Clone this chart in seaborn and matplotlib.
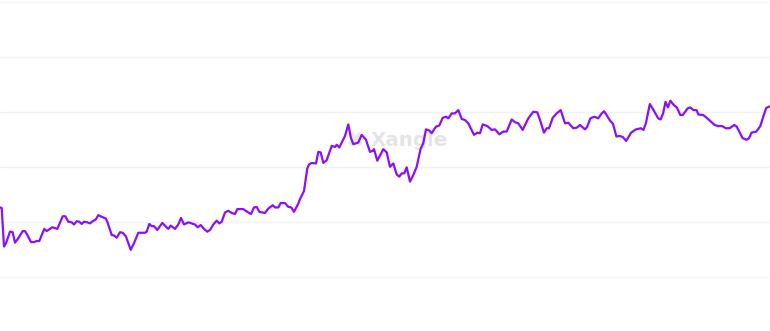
import matplotlib
matplotlib.use("Agg")
import matplotlib.pyplot as plt
import seaborn as sns
import pandas as pd

# time index (arbitrary units along the x-axis) and series values
t = [0, 1.7, 4, 6, 10, 12.7, 15, 18.3, 22.7, 25, 27.3, 31, 34.3, 36.7, 39.3, 44.3, 46.7,
     52.3, 57.3, 62.7, 65.3, 68.3, 71.7, 74, 76.7, 79.3, 81.7, 84, 87.3, 90, 92.7, 95.7,
     98.3, 101.7, 105.7, 107.3, 111.7, 114, 116.7, 120, 122.7, 126, 130.7, 134, 138.3,
     145, 146.7, 149.3, 151.7, 154, 157.3, 162.3, 166, 168.3, 170.7, 175, 178.3, 181,
     184, 188.3, 191.7, 195, 197.7, 200.7, 204, 207.3, 210, 213.3, 216.7, 219.3, 221.7,
     225, 228.3, 231.7, 235, 237.3, 243.3, 247.3, 251, 254, 256.7, 259.3, 265, 268.3,
     272.7, 275, 278.3, 280.7, 285, 288.3, 291.3, 294, 298, 300, 304, 307.3, 309, 311.7,
     316, 318.3, 320.7, 323.3, 326.7, 331.7, 335, 336.7, 339.3, 343.3, 345, 348.3, 351,
     353.3, 358.3, 361.7, 366, 370, 372.7, 374, 377.3, 380.7, 383.3, 386.7, 390, 393.3,
     396.7, 399.3, 401.7, 404.3, 406.7, 410, 413.3, 416.7, 420.5, 423.3, 426, 429.3,
     431.7, 436, 439.3, 442.7, 446, 448.3, 451.7, 455, 458.3, 461.7, 465, 468.3, 474,
     477.3, 480, 482.7, 487.3, 491.7, 495, 499.3, 503.3, 506.7, 511.7, 515, 518.3, 522.7,
     528.3, 533.3, 537.3, 540, 544, 546.7, 549, 552.7, 556.7, 560.7, 565, 568.3, 573.3,
     576.7, 580, 585, 587, 590.4, 594.3, 598.2, 601.7, 604.1, 606.6, 610, 613, 616.4,
     619.8, 622.8, 626.2, 631.1, 636, 641, 643.4, 645.9, 649.8, 653.2, 658.2, 660.6,
     663.1, 665.5, 668, 670.4, 673.9, 676.8, 680.3, 682.7, 687.6, 690.1, 693.5, 696.5,
     698.4, 703.3, 707.3, 709.7, 714.6, 718.1, 722, 725.9, 729.4, 734.3, 736.7, 739.2,
     742.6, 746.6, 749, 751.5, 756.4, 760.3, 763.8, 766.2, 770]

values = [12.7, 12.6, 5.6, 6.2, 8.3, 8.2, 6.3, 7.1, 8.4, 8.4, 7.7, 6.4, 6.4, 6.6, 6.6, 8.8, 8.4,
          9.1, 8.8, 11.1, 11.1, 10.1, 10.0, 9.6, 10.2, 10.1, 9.7, 10.1, 10.0, 9.8, 10.2, 10.5,
          11.3, 11.0, 10.7, 10.1, 7.7, 7.6, 7.2, 8.2, 8.1, 7.4, 5.0, 6.2, 8.1,
          8.1, 8.3, 9.7, 9.3, 9.3, 8.6, 9.9, 9.2, 8.8, 9.4, 8.8, 9.6, 10.8,
          9.6, 10.0, 9.8, 9.6, 9.1, 9.5, 8.8, 8.3, 8.6, 9.6, 10.3, 9.8, 10.1,
          11.8, 12.1, 11.7, 11.5, 12.4, 12.4, 11.9, 11.5, 12.7, 12.8, 11.9, 11.7, 12.5,
          13.1, 12.7, 12.7, 13.5, 13.5, 12.8, 12.7, 11.9, 13.3, 14.2, 15.7, 19.8, 20.5, 20.8,
          20.7, 22.8, 22.7, 20.8, 21.3, 23.9, 23.7, 24.1, 23.6, 25.1, 25.7, 27.8, 25.3,
          24.2, 24.5, 25.9, 25.0, 22.8, 23.0, 23.3, 21.2, 22.4, 23.3, 22.7, 20.1, 20.7,
          18.7, 18.3, 18.9, 18.9, 20.0, 17.4, 18.6, 20.1, 23.3, 24.4, 26.9, 26.7,
          26.2, 27.4, 27.6, 29.0, 29.2, 28.9, 29.8, 29.8, 30.4, 28.8, 28.6, 28.0, 25.9,
          26.3, 26.2, 27.8, 27.5, 26.8, 26.9, 26.0, 26.5, 26.5, 28.7, 28.2, 28.0, 26.8,
          28.9, 30.1, 30.0, 28.6, 26.3, 27.1, 27.1, 29.0, 29.8, 30.4, 28.0, 28.1, 27.1,
          27.2, 27.7, 26.9, 27.3, 28.9, 29.2, 28.9, 29.8, 30.2, 29.5, 28.5, 27.9, 25.6,
          25.7, 25.5, 24.8, 26.3, 26.9, 27.1, 26.8, 28.0, 31.5, 30.5, 28.9, 28.7,
          29.8, 31.9, 30.9, 32.1, 31.3, 30.9, 29.5, 29.5, 30.7, 30.9, 30.4, 30.4,
          29.6, 29.5, 28.9, 28.5, 27.7, 27.5, 27.5, 27.1, 27.1, 27.7, 27.4, 26.5,
          25.3, 25.0, 25.3, 26.3, 26.5, 27.5, 29.5, 30.8, 31.1]

grid_values = [0, 10, 20, 30, 40, 50]
watermark = "Xangle"

df = pd.DataFrame({"t": t, "value": values})

sns.set_theme(style="white")
fig = plt.figure(figsize=(7.7, 3.31), dpi=100)
ax = fig.add_axes([0.0, 0.129, 1.0, 0.869])

for g in grid_values:
    ax.axhline(g, color="#f2f2f5", lw=1.0, zorder=0)

ax.text(354, 24.8, "\u2716", fontsize=16, color="#e9e9e9", ha="center", va="center",
        family="DejaVu Sans", zorder=1)
ax.text(371, 24.8, watermark, fontsize=14.3, fontweight="bold", color="#e4e4e4",
        ha="left", va="center", family="DejaVu Sans", zorder=1)

sns.lineplot(data=df, x="t", y="value", ax=ax, color="#8a10f8", linewidth=1.6,
             zorder=3)

ax.set_xlim(0, 770)
ax.set_ylim(-2, 50.3)
ax.set_xlabel("")
ax.set_ylabel("")
ax.set_xticks([])
ax.set_yticks([])
for s in ax.spines.values():
    s.set_visible(False)

fig.savefig("out.png", dpi=100, facecolor="white")
